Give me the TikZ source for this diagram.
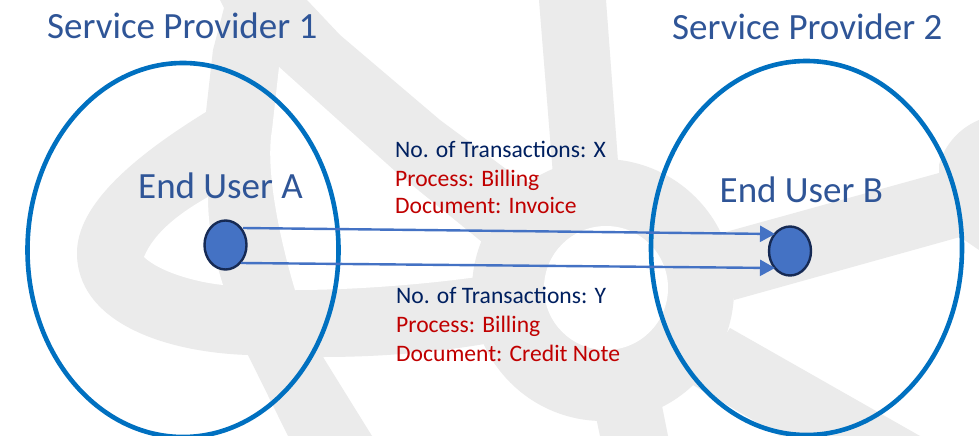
\documentclass[tikz,border=0pt]{standalone}
\usepackage{fontspec}
\setmainfont{Carlito}
\usetikzlibrary{arrows.meta,shapes.geometric}
\definecolor{wm}{RGB}{235,235,235}
\definecolor{ringblue}{RGB}{0,112,192}
\definecolor{headblue}{RGB}{47,85,151}
\definecolor{dotblue}{RGB}{68,114,196}
\definecolor{dotedge}{RGB}{22,42,84}
\definecolor{navy}{RGB}{0,32,96}
\definecolor{redtxt}{RGB}{192,0,0}
\tikzset{
  wmark/.style={fill=wm,draw=none},
  wmhole/.style={fill=white,draw=none},
  provider/.style={draw=ringblue,line width=4.6pt,ellipse,inner sep=0pt,minimum width=311pt,minimum height=374pt},
  head/.style={text=headblue,font=\fontsize{37pt}{42pt}\selectfont,inner sep=0pt,anchor=base west},
  detail/.style={font=\fontsize{23.6pt}{28pt}\selectfont,inner sep=0pt,anchor=base west},
  dot/.style={ellipse,draw=dotedge,fill=dotblue,line width=2.4pt,inner sep=0pt,minimum width=42pt,minimum height=49pt},
  link/.style={draw=dotblue,line width=2.4pt,-{Triangle[length=15pt,width=16pt]}}
}
\begin{document}
\begin{tikzpicture}[x=1pt,y=-1pt]
\useasboundingbox (0,0) rectangle (979,436);
\fill[white] (0,0) rectangle (979,436);
% watermark
\path[wmark] (220,0) -- (224,8) -- (213,50) -- (206,112)
  .. controls (133,157) and (77,205) .. (77,253)
  .. controls (77,320) and (160,352) .. (248,355)
  -- (288,436) -- (372,436) -- (323,357)
  .. controls (380,357) and (440,352) .. (490,343)
  -- (560,200) -- (510,172) -- (440,120) -- (340,35) -- (307,0) -- cycle;
\path[wmhole] (144,257) .. controls (155,230) and (185,210) .. (208,197)
  .. controls (208,230) and (215,260) .. (223,285)
  .. controls (195,282) and (160,272) .. (144,257) -- cycle;
\path[wmhole] (279,67) -- (397,173) -- (483,243) -- (477,277)
  .. controls (420,285) and (350,290) .. (295,290)
  .. controls (280,240) and (265,170) .. (272,130) -- cycle;
\path[wmark] (539,0) -- (606,0) -- (619,175) -- (553,175) -- cycle;
\path[wmark] (722,233) -- (939,173) -- (939,165)
  .. controls (943,150) and (955,130) .. (979,120)
  -- (979,250) -- (960,237) -- (734,300) -- cycle;
\path[wmark] (730,328) -- (920,436) -- (780,436) -- (693,385) -- cycle;
\path[wmark] (596,417) -- (600,436) -- (668,436) -- (662,406) -- cycle;
\path[wmark] (603,290) circle[radius=131];
\path[wmhole] (606,288) circle[radius=62];
% providers
\node[provider] (sp1) at (183,250) {};
\node[provider] (sp2) at (806.5,248) {};
\node[head] (t1) at (47,39) {Service Provider 1};
\node[head] (t2) at (672,40) {Service Provider 2};
\node[head] (u1) at (138,198) {End User A};
\node[head] (u2) at (719.5,202) {End User B};
\node[dot] (a) at (225.5,245) {};
\node[dot] (b) at (790,251) {};
\coordinate (a1) at (243,228);
\coordinate (a2) at (241,263);
\coordinate (b1) at (775,234);
\coordinate (b2) at (775,268);
\draw[link] (a1) -- (b1);
\draw[link] (a2) -- (b2);
\node[detail,text=navy] (x1) at (395,157) {No. of Transactions: X};
\node[detail,text=redtxt] (x2) at (395,186) {Process: Billing};
\node[detail,text=redtxt] (x3) at (395,213.5) {Document: Invoice};
\node[detail,text=navy] (y1) at (396,303) {No. of Transactions: Y};
\node[detail,text=redtxt] (y2) at (396,332) {Process: Billing};
\node[detail,text=redtxt] (y3) at (396,361) {Document: Credit Note};
\end{tikzpicture}
\end{document}
